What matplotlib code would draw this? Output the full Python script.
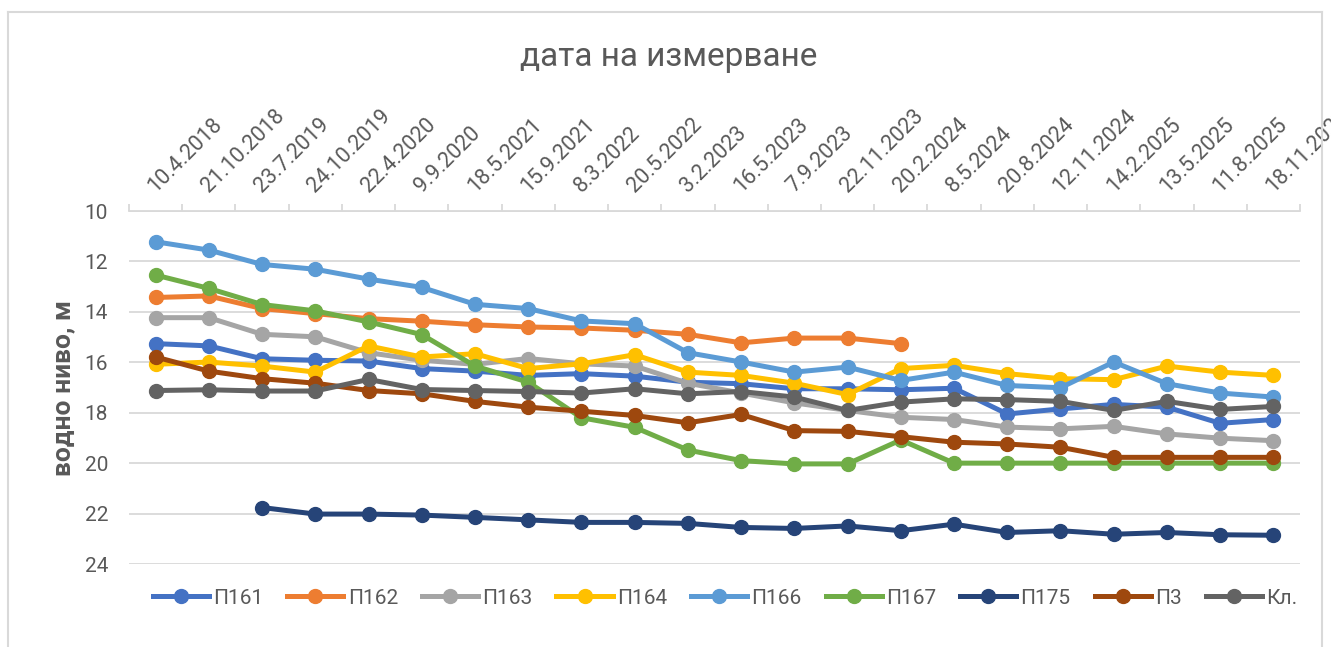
import numpy as np
import matplotlib
matplotlib.use("Agg")
import matplotlib.pyplot as plt
from matplotlib.lines import Line2D

plt.rcParams['font.family'] = ['Roboto', 'DejaVu Sans']

# дати на измерване
dates = ['10.4.2018', '21.10.2018', '23.7.2019', '24.10.2019', '22.4.2020', '9.9.2020',
         '18.5.2021', '15.9.2021', '8.3.2022', '20.5.2022', '3.2.2023', '16.5.2023',
         '7.9.2023', '22.11.2023', '20.2.2024', '8.5.2024', '20.8.2024', '12.11.2024',
         '14.2.2025', '13.5.2025', '11.8.2025', '18.11.2025']

n = None
p161 = [15.26, 15.35, 15.86, 15.92, 15.95, 16.25, 16.35, 16.52, 16.45, 16.55, 16.79,
        16.85, 17.05, 17.05, 17.09, 17.03, 18.05, 17.85, 17.67, 17.78, 18.42, 18.27]
p162 = [13.43, 13.37, 13.87, 14.07, 14.27, 14.37, 14.51, 14.60, 14.64, 14.73, 14.89,
        15.23, 15.04, 15.04, 15.26, n, n, n, n, n, n, n]
p163 = [14.23, 14.23, 14.89, 14.99, 15.62, 15.92, 16.08, 15.85, 16.06, 16.15, 16.83,
        17.22, 17.61, 17.91, 18.18, 18.27, 18.57, 18.64, 18.54, 18.84, 19.01, 19.11]
p164 = [16.08, 15.99, 16.15, 16.39, 15.35, 15.79, 15.66, 16.25, 16.06, 15.70, 16.39,
        16.52, 16.83, 17.28, 16.25, 16.12, 16.45, 16.65, 16.69, 16.15, 16.39, 16.52]
p166 = [11.22, 11.55, 12.12, 12.31, 12.70, 13.03, 13.70, 13.87, 14.36, 14.47, 15.62,
        15.99, 16.39, 16.19, 16.72, 16.39, 16.92, 17.01, 15.99, 16.85, 17.22, 17.38]
p167 = [12.54, 13.07, 13.71, 13.96, 14.40, 14.90, 16.15, 16.79, 18.20, 18.58, 19.48,
        19.90, 20.03, 20.03, 19.08, 20.0, 20.0, 20.0, 20.0, 20.0, 20.0, 20.0]
p175 = [n, n, 21.76, 22.02, 22.02, 22.06, 22.15, 22.25, 22.35, 22.35, 22.39, 22.55,
        22.59, 22.49, 22.68, 22.42, 22.75, 22.68, 22.82, 22.75, 22.84, 22.86]
p3 = [15.79, 16.35, 16.65, 16.83, 17.12, 17.25, 17.55, 17.78, 17.94, 18.11, 18.40,
      18.07, 18.71, 18.74, 18.95, 19.17, 19.24, 19.37, 19.77, 19.77, 19.77, 19.77]
kl = [17.12, 17.09, 17.14, 17.14, 16.68, 17.08, 17.12, 17.16, 17.22, 17.05, 17.25,
      17.16, 17.38, 17.91, 17.58, 17.45, 17.48, 17.55, 17.91, 17.55, 17.87, 17.75]

names = ['П161', 'П162', 'П163', 'П164', 'П166', 'П167', 'П175', 'П3', 'Кл.']
series = [p161, p162, p163, p164, p166, p167, p175, p3, kl]
colors = ['#4472C4', '#ED7D31', '#A5A5A5', '#FFC000', '#5B9BD5', '#70AD47',
          '#264478', '#9E480E', '#636363']
txt = '#595959'

fig = plt.figure(figsize=(13.31, 6.47), dpi=100)
ax = fig.add_axes([129 / 1331, 83 / 647, (1300 - 129) / 1331, (564 - 211) / 647])

x = np.arange(len(dates))
for name, vals, c in zip(names, series, colors):
    y = np.array([np.nan if v is None else v for v in vals], dtype=float)
    ax.plot(x, y, color=c, lw=3.6, marker='o', ms=10, label=name,
            solid_capstyle='round', solid_joinstyle='round')

ax.set_ylim(24, 10)
ax.set_yticks(np.arange(10, 25, 2))
ax.set_xlim(-0.5, len(dates) - 0.5)
ax.grid(axis='y', color='#D9D9D9', lw=1.3)
ax.set_axisbelow(True)
for s in ['left', 'right', 'bottom']:
    ax.spines[s].set_visible(False)
ax.spines['top'].set_color('#D9D9D9')
ax.spines['top'].set_linewidth(1.3)

ax.xaxis.tick_top()
ax.set_xticks(x)
ax.set_xticklabels(dates)
ax.set_xticks(np.arange(-0.5, len(dates)), minor=True)
ax.tick_params(axis='x', which='major', length=0, pad=13, labelsize=15.5, labelcolor=txt)
ax.tick_params(axis='x', which='minor', length=5, color='#D9D9D9', width=1.3, direction='out')
ax.tick_params(axis='y', length=0, pad=15, labelsize=15, labelcolor=txt)
plt.setp(ax.get_xticklabels(), rotation=45, ha='left', va='baseline', rotation_mode='anchor')

ax.set_ylabel('водно ниво, м', fontsize=19, fontweight='bold', color=txt)
ax.yaxis.set_label_coords(-0.046, 0.5)

fig.text(669 / 1331, 1 - 57 / 647, 'дата на измерване', ha='center', va='center',
         fontsize=24, color=txt)

handles = [Line2D([], [], color=c, lw=3.6, marker='o', ms=10) for c in colors]
fig.legend(handles, names, loc='center', bbox_to_anchor=(725 / 1331, 1 - 598 / 647),
           ncol=9, frameon=False, fontsize=15, handlelength=2.7, columnspacing=1.15,
           handletextpad=0.2, labelcolor=txt)

# рамка на диаграмата
for xs, ys in [([8, 8], [647, 12]), ([8, 1322], [12, 12]), ([1322, 1322], [12, 647])]:
    fig.add_artist(Line2D([v / 1331 for v in xs], [1 - v / 647 for v in ys],
                          color='#D9D9D9', lw=1.5))

fig.savefig('out.png', dpi=100)
